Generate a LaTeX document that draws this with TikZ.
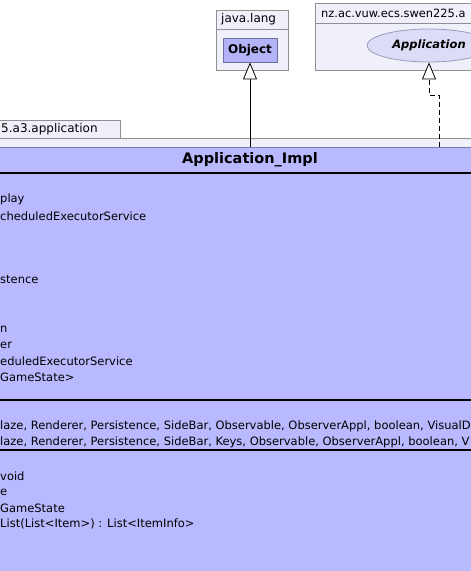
\documentclass[tikz,border=0pt]{standalone}
\usepackage{fontspec}
\setmainfont{DejaVu Sans}
\usetikzlibrary{arrows.meta,shapes.geometric}
\definecolor{pkgfill}{HTML}{F0F0FA}
\definecolor{pkgborder}{HTML}{909090}
\definecolor{clsfill}{HTML}{B9B9FF}
\definecolor{clsborder}{HTML}{7A7AA8}
\definecolor{objfill}{HTML}{B3B3F8}
\definecolor{objborder}{HTML}{6E6EA0}
\definecolor{ifcfill}{HTML}{DCDCF6}
\definecolor{ifcborder}{HTML}{9A9ABB}
\tikzset{
  pkgbox/.style={draw=pkgborder, fill=pkgfill, line width=0.8pt},
  clsbox/.style={draw=clsborder, fill=clsfill, line width=0.8pt},
  sepline/.style={draw=black, line width=1.1pt},
  txt/.style={anchor=west, inner sep=0pt, font=\fontsize{11.5}{13}\selectfont},
  pkglabel/.style={anchor=west, inner sep=0pt, font=\fontsize{12}{14}\selectfont},
  inherit/.style={draw=black, line width=0.8pt, -{Triangle[length=17pt,width=14pt,fill=white,line width=0.8pt]}},
  realize/.style={inherit, dash pattern=on 5pt off 3pt},
}
\begin{document}
\begin{tikzpicture}[x=1pt,y=-1pt]
\useasboundingbox (0,0) rectangle (471,571);
\clip (0,0) rectangle (471,571);
\fill[white] (0,0) rectangle (471,571);
% java.lang package
\draw[pkgbox] (216,10) rectangle (288,29);
\draw[pkgbox] (216,29) rectangle (288,70);
\node[pkglabel] (pjl) at (221,19.5) {java.lang};
\node[draw=objborder, fill=objfill, line width=0.8pt, minimum width=54pt, minimum height=24pt, inner sep=0pt,
      font=\bfseries\fontsize{12}{14}\selectfont] (obj) at (250,50) {Object};
% nz package
\draw[pkgbox] (315,3) rectangle (480,23);
\draw[pkgbox] (315,23) rectangle (480,70);
\node[pkglabel, font=\fontsize{11.4}{14}\selectfont] (pnz) at (321,13.5) {nz.ac.vuw.ecs.swen225.a};
\node[ellipse, draw=ifcborder, fill=ifcfill, line width=0.8pt, minimum width=124pt, minimum height=33pt, inner sep=0pt,
      font=\bfseries\itshape\fontsize{11.5}{14}\selectfont] (app) at (429,45.5) {Application};
% application package
\draw[pkgbox] (-5,120) rectangle (120,138);
\draw[pkgbox] (-5,138) rectangle (480,600);
\node[pkglabel] (pap) at (1,129.5) {5.a3.application};
% class
\draw[clsbox] (-5,147) rectangle (480,600);
\node[inner sep=0pt, font=\bfseries\fontsize{14.5}{16}\selectfont] (impl) at (250,160) {Application\_Impl};
\draw[sepline] (-5,173) -- (480,173);
\draw[sepline] (-5,400) -- (480,400);
\draw[sepline] (-5,450) -- (480,450);
\coordinate (top1) at (250,147);
\coordinate (top2) at (439,147);
% attributes
\node[txt] (a1) at (0,199) {play};
\node[txt] (a2) at (0,216) {cheduledExecutorService};
\node[txt] (a3) at (0,280) {stence};
\node[txt] (a4) at (0,329) {n};
\node[txt] (a5) at (0,345) {er};
\node[txt] (a6) at (0,361) {eduledExecutorService};
\node[txt] (a7) at (0,377) {GameState>};
% constructors
\node[txt] (c1) at (0,426) {laze, Renderer, Persistence, SideBar, Observable, ObserverAppl, boolean, VisualD};
\node[txt] (c2) at (0,442) {laze, Renderer, Persistence, SideBar, Keys, Observable, ObserverAppl, boolean, V};
% methods
\node[txt] (m1) at (0,476) {void};
\node[txt] (m2) at (0,492) {e};
\node[txt] (m3) at (0,508) {GameState};
\node[txt] (m4) at (0,524) {List(List<Item>) : List<ItemInfo>};
% connectors
\draw[inherit] (top1) -- (obj.south);
\draw[realize] (top2) -- ++(0,-52) -| (app.south);
\end{tikzpicture}
\end{document}
